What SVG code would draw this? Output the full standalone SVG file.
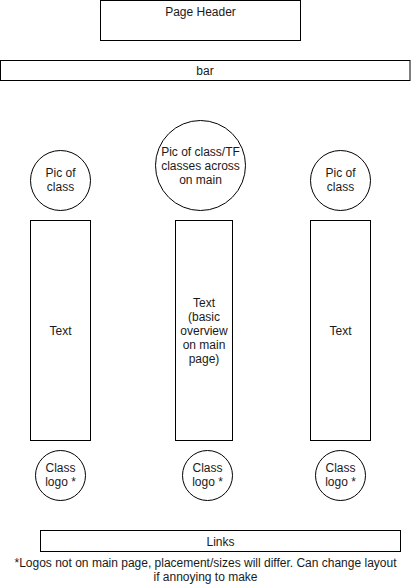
<svg xmlns="http://www.w3.org/2000/svg" width="411" height="584" viewBox="0 0 411 584">
<style>
.s{fill:#fff;stroke:#000;stroke-width:1}
text{font-family:"Liberation Sans",Arial,sans-serif;font-size:12px;fill:#1a1a1a;text-anchor:middle}
</style>
<rect width="411" height="584" fill="#fff"/>
<g id="header"><rect class="s" x="100.5" y="0.5" width="200" height="40"/><text x="200.5" y="16">Page Header</text></g>
<g id="bar"><rect class="s" x="0.5" y="60.5" width="409.5" height="20"/><text x="205" y="74.5">bar</text></g>
<g id="pic-left"><circle class="s" cx="60.5" cy="180.5" r="30"/><text x="60.5" y="177">Pic of</text><text x="60.5" y="191">class</text></g>
<g id="pic-center"><circle class="s" cx="200.5" cy="165.5" r="45"/><text x="200.5" y="156">Pic of class/TF</text><text x="200.5" y="170">classes across</text><text x="200.5" y="184">on main</text></g>
<g id="pic-right"><circle class="s" cx="340.5" cy="180.5" r="30"/><text x="340.5" y="177">Pic of</text><text x="340.5" y="191">class</text></g>
<g id="text-left"><rect class="s" x="30.5" y="220.5" width="60" height="220"/><text x="60.5" y="334.5">Text</text></g>
<g id="text-center"><rect class="s" x="175.5" y="220.5" width="57" height="220"/><text x="204" y="306.5">Text</text><text x="204" y="320.5">(basic</text><text x="204" y="334.5">overview</text><text x="204" y="348.5">on main</text><text x="204" y="362.5">page)</text></g>
<g id="text-right"><rect class="s" x="310.5" y="220.5" width="60" height="220"/><text x="340.5" y="334.5">Text</text></g>
<g id="logo-left"><circle class="s" cx="60.5" cy="475.5" r="25"/><text x="60.5" y="472">Class</text><text x="60.5" y="486">logo *</text></g>
<g id="logo-center"><circle class="s" cx="207.5" cy="475.5" r="25"/><text x="207.5" y="472">Class</text><text x="207.5" y="486">logo *</text></g>
<g id="logo-right"><circle class="s" cx="340.5" cy="475.5" r="25"/><text x="340.5" y="472">Class</text><text x="340.5" y="486">logo *</text></g>
<g id="links"><rect class="s" x="40.5" y="530.5" width="360" height="21"/><text x="220.5" y="545.5">Links</text></g>
<g id="note"><text x="205.5" y="567">*Logos not on main page, placement/sizes will differ. Can change layout</text><text x="205.5" y="581">if annoying to make</text></g>
<g id="connectors"></g>
</svg>
